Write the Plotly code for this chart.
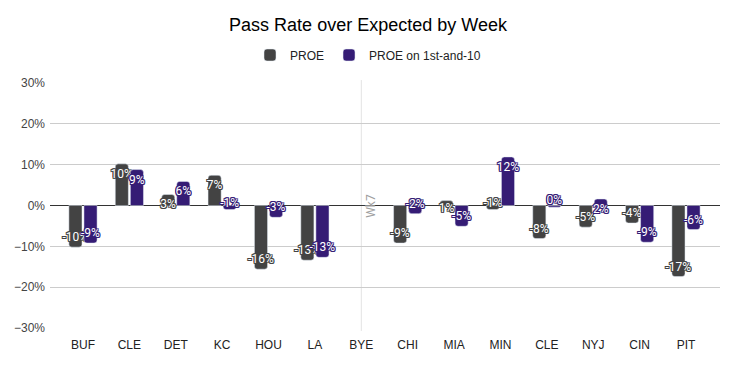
import plotly.graph_objects as go

weeks = ["BUF", "CLE", "DET", "KC", "HOU", "LA", "BYE", "CHI", "MIA", "MIN", "CLE ", "NYJ", "CIN", "PIT"]
tick_text = ["BUF", "CLE", "DET", "KC", "HOU", "LA", "BYE", "CHI", "MIA", "MIN", "CLE", "NYJ", "CIN", "PIT"]
proe = [-0.102, 0.102, 0.027, 0.074, -0.156, -0.134, None, -0.092, 0.012, -0.010, -0.081, -0.053, -0.043, -0.174]
proe_1st10 = [-0.092, 0.088, 0.059, -0.010, -0.029, -0.127, None, -0.020, -0.051, 0.119, -0.004, 0.016, -0.090, -0.059]
y_ticks = [-0.3, -0.2, -0.1, 0.0, 0.1, 0.2, 0.3]
bye_week = "BYE"
bye_label = "Wk7"

GRAY = "#434343"
PURPLE = "#351c75"
SANS = "Liberation Sans, Arial, sans-serif"

# the page body has an 8px margin; the figure is sized to fit the rest of the window
W, H, OFF = 728, 358, 8


def outline(c):
    return ", ".join(f"{dx}px {dy}px 0 {c}" for dx in (-1, 0, 1) for dy in (-1, 0, 1) if dx or dy)


fig = go.Figure()
fig.add_trace(go.Bar(
    name="PROE", x=weeks, y=proe, marker_color=GRAY,
    texttemplate="%{y:.0%}", textposition="inside", insidetextanchor="end",
    constraintext="none", textangle=0,
    textfont=dict(family="Roboto", size=12, color="#ffffff", shadow=outline(GRAY)),
    cliponaxis=False,
))
fig.add_trace(go.Bar(
    name="PROE on 1st-and-10", x=weeks, y=proe_1st10, marker_color=PURPLE,
    texttemplate="%{y:.0%}", textposition="inside", insidetextanchor="end",
    constraintext="none", textangle=0,
    textfont=dict(family="Roboto", size=12, color="#ffffff", shadow=outline(PURPLE)),
    cliponaxis=False,
))

fig.add_shape(type="line", xref="x", yref="paper", x0=bye_week, x1=bye_week, y0=-0.012, y1=1.012,
              line=dict(color="#e3e3e3", width=1), layer="below")
fig.add_annotation(x=bye_week, y=0, text=bye_label, textangle=-90, showarrow=False, xshift=9,
                   font=dict(family="Roboto", size=12, color="#9e9e9e"))

fig.update_layout(
    width=W, height=H,
    margin=dict(l=50 - OFF, r=16, t=83 - OFF, b=38, autoexpand=False),
    paper_bgcolor="white", plot_bgcolor="white",
    font=dict(family=SANS, size=12, color="#222222"),
    title=dict(text="Pass Rate over Expected by Week", x=(368 - OFF) / W, xref="container", xanchor="center",
               y=1 - (25 - OFF) / H, yref="container", yanchor="middle",
               font=dict(family=SANS, size=18, color="#000000")),
    legend=dict(orientation="h", x=(368 - OFF) / W, xref="container", xanchor="center",
                y=1 - (55 - OFF) / H, yref="container", yanchor="middle",
                font=dict(family=SANS, size=12, color="#222222")),
    barmode="group", bargap=0.35, bargroupgap=0.13, barcornerradius=3,
    xaxis=dict(type="category", categoryorder="array", categoryarray=weeks,
               tickvals=weeks, ticktext=tick_text, range=[-0.711, 13.733],
               showgrid=False, zeroline=False, showline=False, ticks="",
               ticklabelstandoff=8, automargin=False,
               tickfont=dict(family=SANS, size=12, color="#222222")),
    yaxis=dict(range=[-0.3, 0.3], tickvals=y_ticks, tickformat=".0%",
               showgrid=True, gridcolor="#cccccc", gridwidth=1,
               zeroline=True, zerolinecolor="#333333", zerolinewidth=1,
               showline=False, ticks="", ticklabelstandoff=4, automargin=False,
               tickfont=dict(family=SANS, size=12, color="#444444")),
    showlegend=True,
)

fig.write_html("out.html")
